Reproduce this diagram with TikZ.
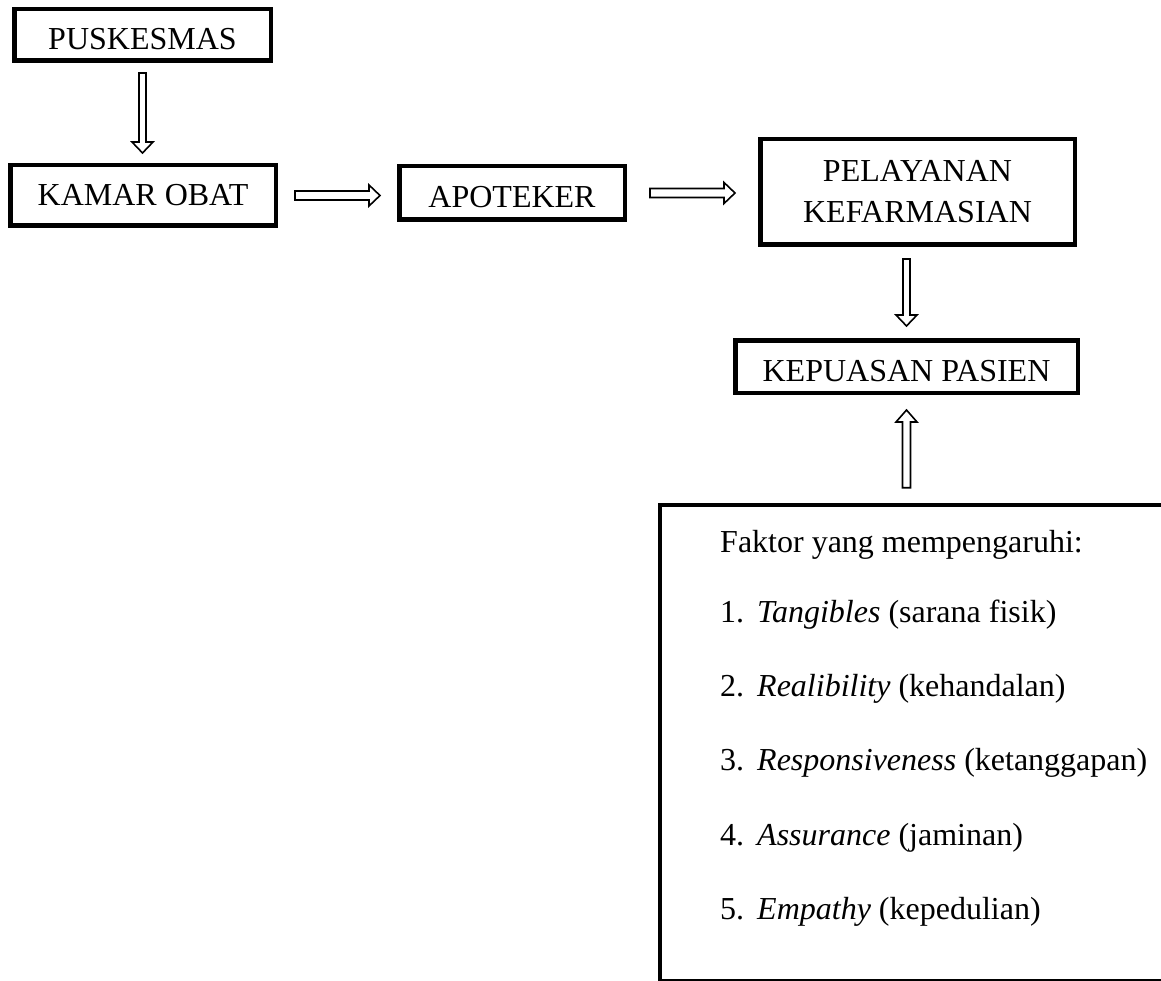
\documentclass[tikz,border=0pt]{standalone}
\usepackage{fontspec}
\setmainfont{Liberation Serif}
\usetikzlibrary{calc}

\tikzset{
  kotak/.style={draw, line width=4.5pt, inner sep=0pt, align=center,
    font=\fontsize{32}{41}\selectfont},
  turun/.style={text height=29pt, text depth=0pt},
  isi/.style={anchor=base west, inner sep=0pt, font=\fontsize{32}{38}\selectfont},
  arrowgap/.store in=\agap, arrowgap=10pt,
  panah/.style={draw, line width=1.6pt, fill=white},
  kanan/.style={panah, to path={let \p1=(\tikztostart), \p2=(\tikztotarget) in
    (\x1+\agap,\y1+4.5pt) -- (\x2-\agap-11pt,\y1+4.5pt) -- (\x2-\agap-11pt,\y1+10.5pt)
    -- (\x2-\agap,\y1) -- (\x2-\agap-11pt,\y1-10.5pt) -- (\x2-\agap-11pt,\y1-4.5pt)
    -- (\x1+\agap,\y1-4.5pt) -- cycle}},
  bawah/.style={panah, to path={let \p1=(\tikztostart), \p2=(\tikztotarget) in
    (\x1-3.5pt,\y1-\agap) -- (\x1-3.5pt,\y2+\agap+11pt) -- (\x1-10.5pt,\y2+\agap+11pt)
    -- (\x1,\y2+\agap) -- (\x1+10.5pt,\y2+\agap+11pt) -- (\x1+3.5pt,\y2+\agap+11pt)
    -- (\x1+3.5pt,\y1-\agap) -- cycle}},
  atas/.style={panah, to path={let \p1=(\tikztostart), \p2=(\tikztotarget) in
    (\x1-4pt,\y1+\agap) -- (\x1-4pt,\y2-\agap-12pt) -- (\x1-10.5pt,\y2-\agap-12pt)
    -- (\x1,\y2-\agap) -- (\x1+10.5pt,\y2-\agap-12pt) -- (\x1+4pt,\y2-\agap-12pt)
    -- (\x1+4pt,\y1+\agap) -- cycle}}
}

\begin{document}
\begin{tikzpicture}[x=1pt,y=-1pt]
  \useasboundingbox (0,0) rectangle (1161,981);
  \fill[white] (0,0) rectangle (1161,981);
  \clip (0,0) rectangle (1161,981);

  \node[kotak, turun, minimum width=256.5pt, minimum height=51.5pt] (pusk) at (142.5,35) {PUSKESMAS};
  \node[kotak, minimum width=265.5pt, minimum height=60.5pt] (kamar) at (143,195.5) {KAMAR OBAT};
  \node[kotak, turun, minimum width=225.5pt, minimum height=53.5pt] (apot) at (512,193) {APOTEKER};
  \node[kotak, minimum width=314.5pt, minimum height=105.5pt] (pel) at (917.5,192) {PELAYANAN\\KEFARMASIAN};
  \node[kotak, turun, minimum width=342.5pt, minimum height=52.5pt] (kep) at (906.5,366.5) {KEPUASAN PASIEN};
  \node[kotak, minimum width=515pt, minimum height=476.5pt, anchor=north west] (faktor) at (657.75,502.75) {};

  \node[isi] (judul) at (720,552) {Faktor yang mempengaruhi:};
  \node[isi] (t1) at (720,622) {\makebox[37pt][l]{1.}\textit{Tangibles} (sarana fisik)};
  \node[isi] (t2) at (720,696.4) {\makebox[37pt][l]{2.}\textit{Realibility} (kehandalan)};
  \node[isi] (t3) at (720,770.8) {\makebox[37pt][l]{3.}\textit{Responsiveness} (ketanggapan)};
  \node[isi] (t4) at (720,845.2) {\makebox[37pt][l]{4.}\textit{Assurance} (jaminan)};
  \node[isi] (t5) at (720,919.6) {\makebox[37pt][l]{5.}\textit{Empathy} (kepedulian)};

  \draw[bawah, arrowgap=10pt] (pusk.south) to (kamar.north);
  \draw[kanan, arrowgap=17pt] (kamar.east) to (apot.west);
  \draw[kanan, arrowgap=23pt] (apot.east) to (pel.west);
  \draw[bawah, arrowgap=12pt] (pel.south -| kep.north) to (kep.north);
  \draw[atas, arrowgap=15pt] (faktor.north -| kep.south) to (kep.south);
\end{tikzpicture}
\end{document}
